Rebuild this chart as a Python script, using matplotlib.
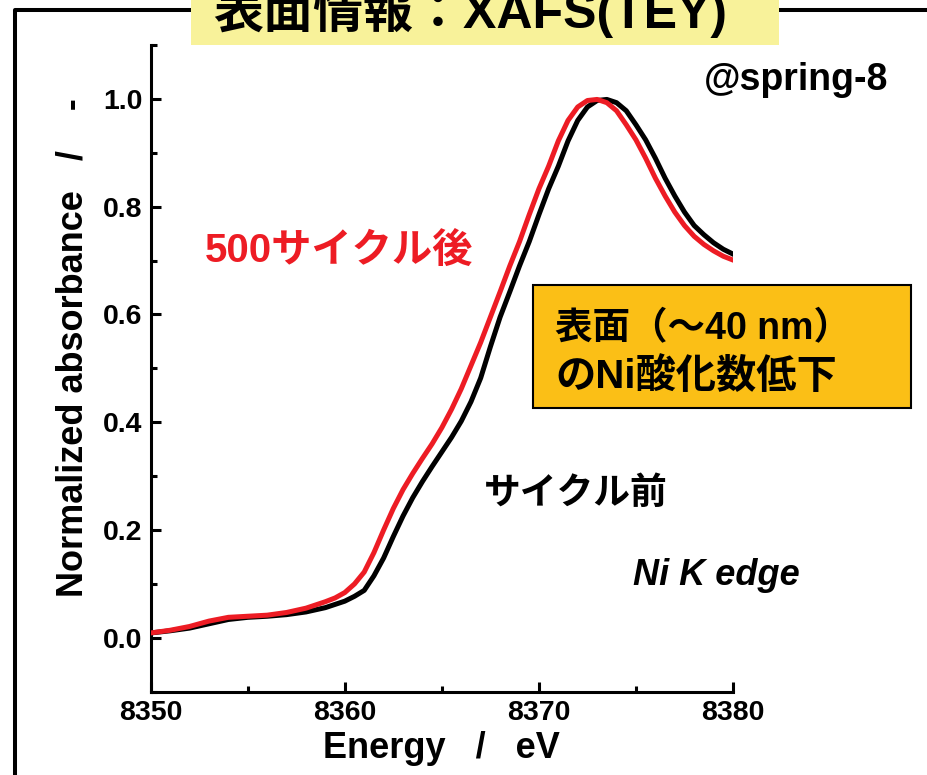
import matplotlib
matplotlib.use("Agg")
import matplotlib.pyplot as plt
from matplotlib.patches import Rectangle
from matplotlib.lines import Line2D
from matplotlib.ticker import MultipleLocator

# Ni K-edge XAFS (TEY)
energy_after = [8350.0, 8351.0, 8352.0, 8353.0, 8354.0, 8355.0, 8356.0, 8357.0, 8358.0, 8358.5,
                8359.0, 8359.5, 8360.0, 8360.5, 8361.0, 8361.5, 8362.0, 8362.5, 8363.0, 8363.5,
                8364.0, 8364.5, 8365.0, 8365.5, 8366.0, 8366.5, 8367.0, 8367.5, 8368.0, 8368.5,
                8369.0, 8369.5, 8370.0, 8370.5, 8371.0, 8371.5, 8372.0, 8372.5, 8373.0, 8373.5,
                8374.0, 8374.5, 8375.0, 8375.5, 8376.0, 8376.5, 8377.0, 8377.5, 8378.0, 8378.5,
                8379.0, 8379.5, 8380.0]
absorb_after = [0.009, 0.014, 0.021, 0.031, 0.038, 0.040, 0.042, 0.047, 0.055, 0.061,
                0.067, 0.074, 0.084, 0.100, 0.122, 0.158, 0.200, 0.240, 0.275, 0.305,
                0.333, 0.360, 0.390, 0.424, 0.462, 0.505, 0.548, 0.595, 0.642, 0.690,
                0.735, 0.785, 0.833, 0.875, 0.922, 0.960, 0.985, 0.997, 0.999, 0.993,
                0.978, 0.952, 0.924, 0.890, 0.853, 0.820, 0.790, 0.765, 0.745, 0.730,
                0.718, 0.708, 0.701]

energy_before = [8350.0, 8351.0, 8352.0, 8353.0, 8354.0, 8355.0, 8356.0, 8357.0, 8358.0, 8358.5,
                 8359.0, 8359.5, 8360.0, 8360.5, 8361.0, 8361.5, 8362.0, 8362.5, 8363.0, 8363.5,
                 8364.0, 8364.5, 8365.0, 8365.5, 8366.0, 8366.5, 8367.0, 8367.5, 8368.0, 8368.5,
                 8369.0, 8369.5, 8370.0, 8370.5, 8371.0, 8371.5, 8372.0, 8372.5, 8373.0, 8373.5,
                 8374.0, 8374.5, 8375.0, 8375.5, 8376.0, 8376.5, 8377.0, 8377.5, 8378.0, 8378.5,
                 8379.0, 8379.5, 8380.0]
absorb_before = [0.009, 0.013, 0.018, 0.026, 0.034, 0.038, 0.040, 0.043, 0.048, 0.052,
                 0.056, 0.062, 0.068, 0.077, 0.088, 0.115, 0.148, 0.188, 0.226, 0.260,
                 0.290, 0.318, 0.345, 0.372, 0.402, 0.438, 0.482, 0.540, 0.595, 0.642,
                 0.690, 0.735, 0.785, 0.833, 0.875, 0.922, 0.960, 0.985, 0.997, 0.999,
                 0.993, 0.978, 0.952, 0.924, 0.890, 0.853, 0.820, 0.790, 0.765, 0.748,
                 0.733, 0.721, 0.712]

plt.rcParams['font.family'] = ['Liberation Sans', 'Noto Sans CJK JP']
plt.rcParams['font.weight'] = 'bold'

W, H = 928, 775
fig = plt.figure(figsize=(W / 100, H / 100), dpi=100)


def fx(x, y):
    # pixel position (from top-left) -> figure fraction
    return x / W, 1 - y / H


ax = fig.add_axes([150.7 / W, 1 - 691.7 / H, (733 - 150.7) / W, (691.7 - 45) / H])
ax.plot(energy_before, absorb_before, color='black', lw=3.6, zorder=3)
ax.plot(energy_after, absorb_after, color='#ED1C24', lw=3.6, zorder=4)

ax.set_xlim(8350, 8380)
ax.set_ylim(-0.1, 1.1)
ax.xaxis.set_major_locator(MultipleLocator(10))
ax.xaxis.set_minor_locator(MultipleLocator(5))
ax.yaxis.set_major_locator(MultipleLocator(0.2))
ax.yaxis.set_minor_locator(MultipleLocator(0.1))
ax.yaxis.set_major_formatter(matplotlib.ticker.FormatStrFormatter('%.1f'))
ax.spines['top'].set_visible(False)
ax.spines['right'].set_visible(False)
for s in ['left', 'bottom']:
    ax.spines[s].set_linewidth(2.2)
ax.tick_params(which='major', direction='in', length=7.2, width=2.2, labelsize=20.5, pad=6)
ax.tick_params(which='minor', direction='in', length=4.3, width=2.2)
for lab in ax.get_xticklabels() + ax.get_yticklabels():
    lab.set_fontweight('bold')

ax.set_xlabel('Energy   /   eV', fontsize=26, fontweight='bold', va='baseline')
ax.xaxis.set_label_coords(0.5, -0.1025)
ax.set_ylabel('Normalized absorbance   /    -', fontsize=26, fontweight='bold', va='center')
ax.yaxis.set_label_coords(-0.134, 0.5315)

# outer frame of the slide panel
fig.add_artist(Line2D([15 / W, 15 / W, 1.0], [0.0, 1 - 10 / H, 1 - 10 / H],
                      transform=fig.transFigure, color='black', lw=2.9, zorder=1))

# title box (cut off at the top, as in the slide)
fig.add_artist(Rectangle(fx(191, 45), (779 - 191) / W, 46 / H, transform=fig.transFigure,
                         facecolor='#F8F29A', edgecolor='none', zorder=2))
fig.text(*fx(470, 28), '表面情報：XAFS(TEY)', fontsize=36, fontweight='bold',
         ha='center', va='baseline', zorder=3)

# annotations
fig.text(*fx(888, 90), '@spring-8', fontsize=27, fontweight='bold', ha='right', va='baseline')
fig.text(*fx(205, 262), '500サイクル後', fontsize=29, fontweight='bold', color='#ED1C24',
         ha='left', va='baseline')
fig.text(*fx(484, 504), 'サイクル前', fontsize=26.5, fontweight='bold', ha='left', va='baseline')
fig.text(*fx(633, 585), 'Ni K edge', fontsize=26, fontweight='bold', style='italic',
         ha='left', va='baseline')

fig.add_artist(Rectangle(fx(533, 408), (911 - 533) / W, (408 - 285) / H, transform=fig.transFigure,
                         facecolor='#FBBF16', edgecolor='black', lw=1.5, zorder=2))
fig.text(*fx(555, 339), '表面（～40 nm）', fontsize=27, fontweight='bold', ha='left',
         va='baseline', zorder=3)
fig.text(*fx(555, 388), 'のNi酸化数低下', fontsize=29, fontweight='bold', ha='left',
         va='baseline', zorder=3)

fig.savefig('out.png', dpi=100)
